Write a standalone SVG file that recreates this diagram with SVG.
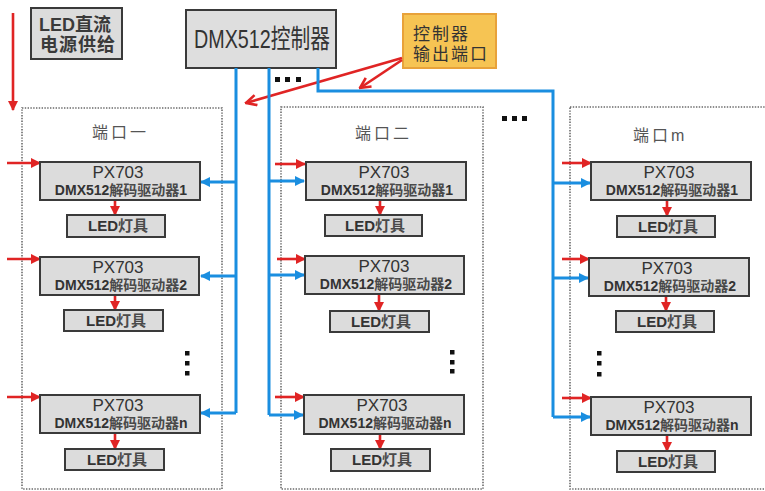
<svg xmlns="http://www.w3.org/2000/svg" width="765" height="491" viewBox="0 0 765 491">
<defs>
<marker id="ar" viewBox="0 0 10 10" refX="9" refY="5" markerWidth="4" markerHeight="4" orient="auto" markerUnits="strokeWidth"><path d="M0,0 L10,5 L0,10 z" fill="#e02424"/></marker>
<marker id="ab" viewBox="0 0 10 10" refX="9" refY="5" markerWidth="3.4" markerHeight="3.4" orient="auto" markerUnits="strokeWidth"><path d="M0,0 L10,5 L0,10 z" fill="#1a8ee0"/></marker>
<marker id="ac" viewBox="0 0 10 10" refX="9" refY="5" markerWidth="5" markerHeight="5" orient="auto" markerUnits="strokeWidth"><path d="M1,1 L9,5 L1,9" fill="none" stroke="#e02424" stroke-width="2"/></marker>
</defs>
<style>
.panel{fill:#ffffff;stroke:#6a6a6a;stroke-width:1.6;stroke-dasharray:1.4 1.4}
.box{fill:#dcdcdc;stroke:#3a3a3a;stroke-width:2}
.led{fill:#dcdcdc;stroke:#3a3a3a;stroke-width:2}
.t{font-family:"Liberation Sans",Arial,"Noto Sans CJK SC",sans-serif;fill:#333;text-anchor:middle}
.px{font-size:17px}
.dm{font-size:14px;font-weight:bold}
.cj{fill:#4a4a4a}
.lt{font-size:15px;font-weight:bold}
.port{font-family:"Liberation Sans","Noto Sans CJK SC",sans-serif;font-size:16px;fill:#555;letter-spacing:3px}
.red{stroke:#e02424;stroke-width:2.6;fill:none;marker-end:url(#ar)}
.blue{stroke:#1a8ee0;stroke-width:3;fill:none}
.bluea{stroke:#1a8ee0;stroke-width:3;fill:none;marker-end:url(#ab)}
.dot{fill:#111}
</style>
<rect width="765" height="491" fill="#ffffff"/>

<g id="panel1"><rect class="panel" x="22" y="108" width="200" height="381"/><text class="port" x="92" y="138">端口一</text></g>
<g id="panel2"><rect class="panel" x="281" y="107" width="202" height="382"/><text class="port" x="355" y="139">端口二</text></g>
<g id="panelm"><rect class="panel" x="570" y="107" width="200" height="382"/><text class="port" x="633" y="141" letter-spacing="1">端口m</text></g>

<g id="power"><rect x="31" y="8" width="91" height="51" fill="#dcdcdc" stroke="#3a3a3a" stroke-width="2"/>
<text font-family="'Liberation Sans','Noto Sans CJK SC',sans-serif" font-size="18" font-weight="bold" fill="#3a3a3a" x="39" y="31">LED直流</text>
<text font-family="'Liberation Sans','Noto Sans CJK SC',sans-serif" font-size="18" font-weight="bold" fill="#3a3a3a" x="40" y="51" letter-spacing="1">电源供给</text></g>

<g id="controller"><rect x="186" y="10" width="150" height="58" fill="#dedede" stroke="#3a3a3a" stroke-width="2"/>
<text font-family="'Liberation Sans','Noto Sans CJK SC',sans-serif" font-size="26" fill="#333" x="194" y="48" textLength="136" lengthAdjust="spacingAndGlyphs">DMX512控制器</text></g>

<g id="callout"><rect x="403" y="14" width="93" height="54" fill="#f6c453" stroke="#e8a23a" stroke-width="2"/>
<text font-family="'Liberation Sans','Noto Sans CJK SC',sans-serif" font-size="17" fill="#333" x="413" y="40" letter-spacing="2">控制器</text>
<text font-family="'Liberation Sans','Noto Sans CJK SC',sans-serif" font-size="17" fill="#333" x="413" y="60" letter-spacing="2">输出端口</text></g>

<g id="connectors">
<path class="red" d="M13,13 V110"/>
<path d="M402,58 L246,103" stroke="#e02424" stroke-width="2.6" fill="none" marker-end="url(#ac)"/>
<path d="M402,60 L360,88" stroke="#e02424" stroke-width="2.6" fill="none" marker-end="url(#ac)"/>
<path class="blue" d="M236,68 V413"/>
<path class="blue" d="M269,68 V415"/>
<path class="blue" d="M318,68 V91 H553 V417"/>
<path class="bluea" d="M236,182 H201"/>
<path class="bluea" d="M236,276 H201"/>
<path class="bluea" d="M236,413 H201"/>
<path class="bluea" d="M269,181 H304"/>
<path class="bluea" d="M269,275 H304"/>
<path class="bluea" d="M269,415 H303"/>
<path class="bluea" d="M553,183 H590"/>
<path class="bluea" d="M553,278 H588"/>
<path class="bluea" d="M553,417 H590"/>
<path class="red" d="M7,163 H40"/>
<path class="red" d="M7,259 H40"/>
<path class="red" d="M7,397 H40"/>
<path class="red" d="M275,164 H305"/>
<path class="red" d="M277,259 H305"/>
<path class="red" d="M275,397 H304"/>
<path class="red" d="M562,163 H591"/>
<path class="red" d="M562,259 H589"/>
<path class="red" d="M562,398 H591"/>
<path class="red" d="M115,201 V215"/>
<path class="red" d="M115,295 V310"/>
<path class="red" d="M115,433 V449"/>
<path class="red" d="M380,200 V215"/>
<path class="red" d="M379,294 V311"/>
<path class="red" d="M380,434 V449"/>
<path class="red" d="M667,200 V216"/>
<path class="red" d="M666,296 V311"/>
<path class="red" d="M667,435 V451"/>
</g>

<g id="dots">
<rect class="dot" x="275" y="77" width="5" height="5"/><rect class="dot" x="285" y="77" width="5" height="5"/><rect class="dot" x="296" y="77" width="5" height="5"/>
<rect class="dot" x="502" y="116" width="5" height="5"/><rect class="dot" x="512" y="116" width="5" height="5"/><rect class="dot" x="522" y="116" width="5" height="5"/>
<rect class="dot" x="185" y="351" width="4.5" height="4.5"/><rect class="dot" x="185" y="361" width="4.5" height="4.5"/><rect class="dot" x="185" y="371" width="4.5" height="4.5"/>
<rect class="dot" x="450" y="350" width="4.5" height="4.5"/><rect class="dot" x="450" y="360" width="4.5" height="4.5"/><rect class="dot" x="450" y="369" width="4.5" height="4.5"/>
<rect class="dot" x="597" y="351" width="4.5" height="4.5"/><rect class="dot" x="597" y="361" width="4.5" height="4.5"/><rect class="dot" x="597" y="372" width="4.5" height="4.5"/>
</g>

<g id="p1d1"><rect class="box" x="40" y="162" width="160" height="38"/><text class="t px" x="118" y="178">PX703</text><text class="t dm" x="121" y="195">DMX512<tspan class="cj">解码驱动器</tspan>1</text></g>
<g id="p1l1"><rect class="led" x="67" y="215" width="98" height="22"/><text class="t lt" x="118" y="231">LED<tspan class="cj">灯具</tspan></text></g>
<g id="p1d2"><rect class="box" x="40" y="257" width="159" height="38"/><text class="t px" x="118" y="273">PX703</text><text class="t dm" x="121" y="290">DMX512<tspan class="cj">解码驱动器</tspan>2</text></g>
<g id="p1l2"><rect class="led" x="64" y="310" width="99" height="21"/><text class="t lt" x="116" y="326">LED<tspan class="cj">灯具</tspan></text></g>
<g id="p1dn"><rect class="box" x="40" y="395" width="160" height="38"/><text class="t px" x="118" y="411">PX703</text><text class="t dm" x="121" y="428">DMX512<tspan class="cj">解码驱动器</tspan>n</text></g>
<g id="p1ln"><rect class="led" x="65" y="449" width="99" height="21"/><text class="t lt" x="117" y="465">LED<tspan class="cj">灯具</tspan></text></g>

<g id="p2d1"><rect class="box" x="306" y="162" width="160" height="38"/><text class="t px" x="384" y="178">PX703</text><text class="t dm" x="387" y="195">DMX512<tspan class="cj">解码驱动器</tspan>1</text></g>
<g id="p2l1"><rect class="led" x="325" y="215" width="97" height="21"/><text class="t lt" x="375" y="231">LED<tspan class="cj">灯具</tspan></text></g>
<g id="p2d2"><rect class="box" x="305" y="256" width="159" height="38"/><text class="t px" x="384" y="272">PX703</text><text class="t dm" x="386" y="289">DMX512<tspan class="cj">解码驱动器</tspan>2</text></g>
<g id="p2l2"><rect class="led" x="330" y="311" width="99" height="21"/><text class="t lt" x="381" y="327">LED<tspan class="cj">灯具</tspan></text></g>
<g id="p2dn"><rect class="box" x="304" y="395" width="160" height="39"/><text class="t px" x="382" y="411">PX703</text><text class="t dm" x="385" y="428">DMX512<tspan class="cj">解码驱动器</tspan>n</text></g>
<g id="p2ln"><rect class="led" x="331" y="449" width="99" height="22"/><text class="t lt" x="382" y="465">LED<tspan class="cj">灯具</tspan></text></g>

<g id="pmd1"><rect class="box" x="591" y="162" width="160" height="38"/><text class="t px" x="669" y="178">PX703</text><text class="t dm" x="672" y="195">DMX512<tspan class="cj">解码驱动器</tspan>1</text></g>
<g id="pml1"><rect class="led" x="617" y="216" width="98" height="21"/><text class="t lt" x="668" y="232">LED<tspan class="cj">灯具</tspan></text></g>
<g id="pmd2"><rect class="box" x="589" y="258" width="160" height="38"/><text class="t px" x="667" y="274">PX703</text><text class="t dm" x="670" y="291">DMX512<tspan class="cj">解码驱动器</tspan>2</text></g>
<g id="pml2"><rect class="led" x="616" y="311" width="98" height="21"/><text class="t lt" x="667" y="327">LED<tspan class="cj">灯具</tspan></text></g>
<g id="pmdn"><rect class="box" x="591" y="397" width="160" height="38"/><text class="t px" x="669" y="413">PX703</text><text class="t dm" x="672" y="430">DMX512<tspan class="cj">解码驱动器</tspan>n</text></g>
<g id="pmln"><rect class="led" x="617" y="451" width="98" height="21"/><text class="t lt" x="668" y="467">LED<tspan class="cj">灯具</tspan></text></g>
</svg>
